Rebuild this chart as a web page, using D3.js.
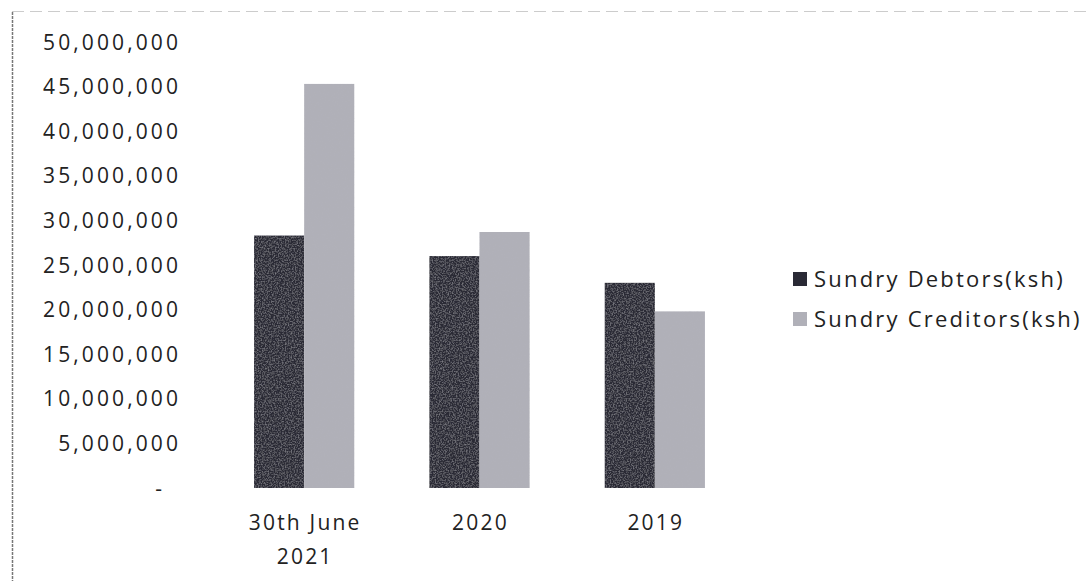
<!DOCTYPE html>
<html lang="en">
  <head>
    <meta charset="UTF-8">
    <title>Sundry Debtors vs Creditors</title>
    <script src="https://d3js.org/d3.v7.min.js"></script>
    <style>
      body { margin: 0; background-color: white; }
      text { font-family: "Open Sans", sans-serif; fill: #222; }
    </style>
  </head>
  <body>
    <script>
      const w = 1087;
      const h = 581;

      const categories = ["30th June 2021", "2020", "2019"];
      const seriesNames = ["Sundry Debtors(ksh)", "Sundry Creditors(ksh)"];
      const debtors = [28300000, 26000000, 23000000];
      const creditors = [45300000, 28700000, 19800000];
      const yTicks = [0, 5000000, 10000000, 15000000, 20000000, 25000000,
                      30000000, 35000000, 40000000, 45000000, 50000000];
      const colors = ["#2a2a35", "#b0b0b8"];

      const data = categories.map((c, i) => ({cat: c, values: [debtors[i], creditors[i]]}));

      const svg = d3.select("body").append("svg")
                    .attr("width", w)
                    .attr("height", h);

      // light grain like the scan
      const defs = svg.append("defs");
      const f = defs.append("filter").attr("id", "grain")
                    .attr("x", 0).attr("y", 0).attr("width", 1).attr("height", 1);
      f.append("feTurbulence").attr("type", "fractalNoise")
       .attr("baseFrequency", 0.7).attr("numOctaves", 2).attr("result", "noise");
      f.append("feColorMatrix").attr("in", "noise").attr("type", "matrix")
       .attr("values", "0 0 0 0 0.45  0 0 0 0 0.45  0 0 0 0 0.5  0 0 0 0.9 -0.38")
       .attr("result", "dots");
      f.append("feComposite").attr("in", "dots").attr("in2", "SourceGraphic")
       .attr("operator", "in").attr("result", "d2");
      f.append("feMerge").selectAll("feMergeNode")
       .data(["SourceGraphic", "d2"]).enter()
       .append("feMergeNode").attr("in", d => d);

      // frame edges
      svg.append("line").attr("x1", 12.5).attr("x2", 12.5).attr("y1", 12).attr("y2", h)
         .attr("stroke", "#777").attr("stroke-width", 1.5).attr("stroke-dasharray", "3,1");
      svg.append("line").attr("x1", 12).attr("x2", w).attr("y1", 11.5).attr("y2", 11.5)
         .attr("stroke", "#ccc").attr("stroke-width", 1).attr("stroke-dasharray", "12,6");

      const yScale = d3.scaleLinear()
                       .domain([0, 50000000])
                       .range([488, 42]);

      const xScale = d3.scaleBand()
                       .domain(categories)
                       .range([216.5, 742.5])
                       .paddingInner(0.4286)
                       .paddingOuter(0.2143);

      const xSub = d3.scaleBand()
                     .domain([0, 1])
                     .range([0, xScale.bandwidth()]);

      const yAxis = d3.axisLeft(yScale)
                      .tickValues(yTicks)
                      .tickSize(0)
                      .tickPadding(0)
                      .tickFormat(d => d === 0 ? "-" : d3.format(",")(d));

      const yg = svg.append("g")
                    .attr("transform", "translate(181,0)")
                    .call(yAxis);
      yg.select(".domain").remove();
      yg.selectAll("text")
        .style("font-family", "'Open Sans', sans-serif")
        .style("font-size", "21px")
        .style("letter-spacing", "3.1px")
        .attr("fill", "#222")
        .attr("dy", "0.34em")
        .attr("x", d => d === 0 ? -16 : 0);

      const groups = svg.selectAll("g.grp")
                        .data(data)
                        .enter()
                        .append("g")
                        .attr("class", "grp")
                        .attr("transform", d => `translate(${xScale(d.cat)},0)`);

      groups.selectAll("rect")
            .data(d => d.values)
            .enter()
            .append("rect")
            .attr("x", (d, i) => xSub(i))
            .attr("width", xSub.bandwidth())
            .attr("y", d => yScale(d))
            .attr("height", d => yScale(0) - yScale(d))
            .attr("fill", (d, i) => colors[i])
            .attr("filter", "url(#grain)");

      // category labels (wrap "30th June 2021")
      const xg = svg.append("g");
      categories.forEach(c => {
        const cx = xScale(c) + xScale.bandwidth() / 2 + 1;
        const t = xg.append("text")
                    .attr("text-anchor", "middle")
                    .style("font-size", "21px")
                    .style("letter-spacing", "2.2px")
                    .attr("x", cx)
                    .attr("y", 530);
        const parts = c === "30th June 2021" ? ["30th June", "2021"] : [c];
        parts.forEach((p, i) => {
          t.append("tspan")
           .attr("x", cx)
           .attr("dy", i === 0 ? 0 : 34)
           .text(p);
        });
      });

      // legend
      const legend = svg.append("g").attr("transform", "translate(793,0)");
      seriesNames.forEach((s, i) => {
        const y = 287 + i * 40;
        legend.append("rect")
              .attr("x", 0).attr("y", y - 15)
              .attr("width", 14).attr("height", 14)
              .attr("fill", colors[i]);
        legend.append("text")
              .attr("x", 21).attr("y", y)
              .style("font-size", "22px")
              .style("letter-spacing", "2.2px")
              .text(s);
      });
    </script>
  </body>
</html>
